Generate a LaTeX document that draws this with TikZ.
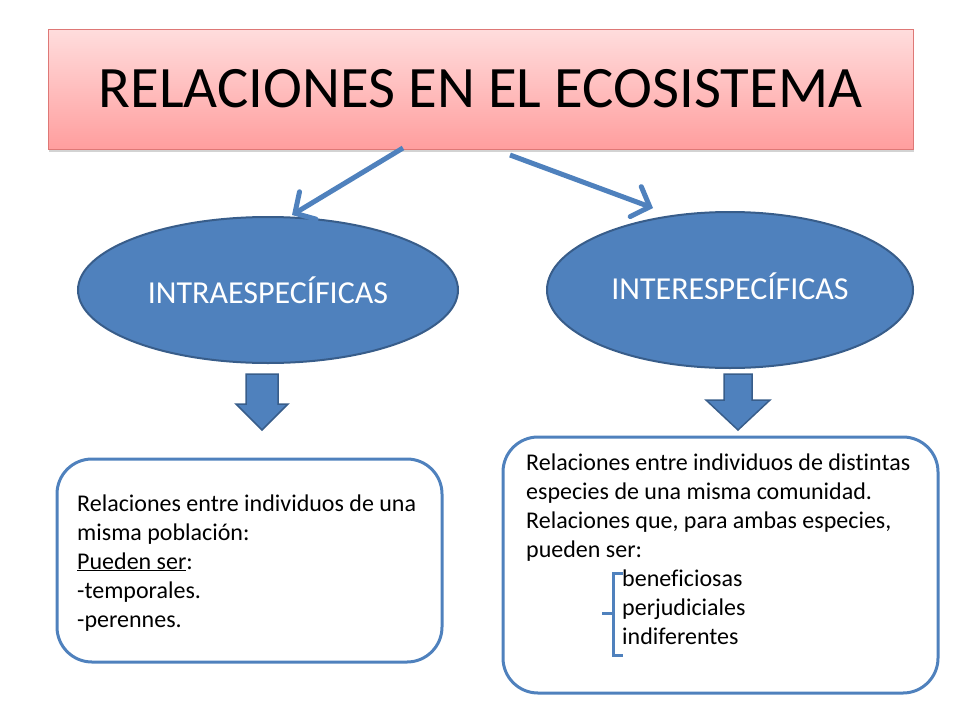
\documentclass[tikz,border=0pt]{standalone}
\usepackage{fontspec}
\setmainfont{Carlito}[Ligatures=CommonOff]
\usepackage{tikz}
\usetikzlibrary{arrows.meta, shapes.geometric, shadows}

\definecolor{ecoblue}{RGB}{79,129,189}
\definecolor{ecoedge}{RGB}{56,93,138}
\definecolor{titletop}{RGB}{255,221,221}
\definecolor{titlebot}{RGB}{255,158,158}
\definecolor{titleedge}{RGB}{222,120,118}

\tikzset{
  titlebox/.style = {rectangle, draw=titleedge, line width=1pt,
    top color=titletop, bottom color=titlebot,
    drop shadow={shadow xshift=1pt, shadow yshift=-3pt, opacity=0.35},
    minimum width=865pt, minimum height=120pt,
    font=\fontsize{58.7}{70}\selectfont},
  groupoval/.style = {ellipse, draw=ecoedge, line width=2pt, fill=ecoblue,
    text=white, inner sep=0pt, font=\fontsize{32}{38}\selectfont},
  linkarrow/.style = {draw=ecoblue, line width=5pt,
    -{Straight Barb[length=15pt, width=32pt, line width=5pt, line cap=round]}},
  downarrow/.style = {draw=ecoedge, line width=1.5pt, fill=ecoblue, line join=miter},
  infobox/.style = {draw=ecoblue, line width=3pt, rounded corners=35pt},
  infotext/.style = {anchor=base west, inner sep=0pt, align=left,
    font=\fontsize{24}{29}\selectfont},
  bracket/.style = {draw=ecoblue, line width=3pt}
}

\begin{document}
\begin{tikzpicture}[x=1pt, y=-1pt]
	\useasboundingbox (0,0) rectangle (960,720);

	% title and the two groups
	\node [titlebox] (title) at (480.5,89) {RELACIONES EN EL ECOSISTEMA};
	\node [groupoval, minimum width=380pt, minimum height=146pt] (intra) at (268,290) {INTRAESPECÍFICAS};
	\node [groupoval, minimum width=366pt, minimum height=156pt] (inter) at (730,290) {\raisebox{8pt}{INTERESPECÍFICAS}};

	\coordinate (t1) at (403,148);
	\coordinate (t2) at (510,155);
	\coordinate (a1) at (292,215);
	\coordinate (a2) at (653,208);
	\draw [linkarrow] (t1) -- (a1);
	\draw [linkarrow] (t2) -- (a2);

	% block arrows
	\foreach \cx/\sw/\hw/\hy in {262/16/26/404, 738/14/32/400}
		\draw [downarrow] (\cx-\sw,374) -- (\cx+\sw,374) -- (\cx+\sw,\hy) -- (\cx+\hw,\hy)
			-- (\cx,430) -- (\cx-\hw,\hy) -- (\cx-\sw,\hy) -- cycle;

	% text boxes
	\draw [infobox] (57,459) rectangle (442,662);
	\draw [infobox] (503,437) rectangle (938,693);

	\node [infotext] (intratext) at (77,627) {Relaciones entre individuos de una\\
		misma población:\\
		\underline{Pueden ser}:\\
		-temporales.\\
		-perennes.};

	\node [infotext] (intertext) at (526,644) {Relaciones entre individuos de distintas\\
		especies de una misma comunidad.\\
		Relaciones que, para ambas especies,\\
		pueden ser:\\
		\hspace*{96pt}beneficiosas\\
		\hspace*{96pt}perjudiciales\\
		\hspace*{96pt}indiferentes};

	% brace in front of the three kinds
	\coordinate (b1) at (623,573);
	\coordinate (b2) at (623,655);
	\draw [bracket] (b1) -- (613,573) -- (613,655) -- (b2);
	\draw [bracket] (613,613) -- (602,613);
\end{tikzpicture}
\end{document}
